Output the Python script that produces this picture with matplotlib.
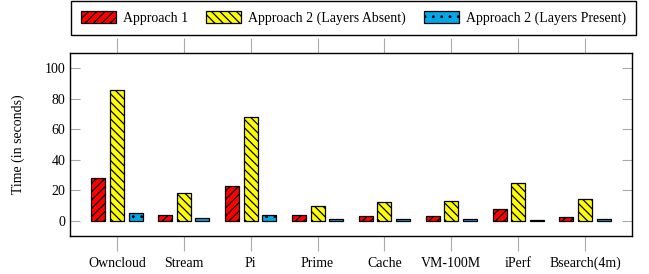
import matplotlib
matplotlib.use('Agg')
import matplotlib.pyplot as plt
import numpy as np

plt.rcParams['font.family'] = ['Liberation Serif', 'DejaVu Serif']
plt.rcParams['hatch.linewidth'] = 0.9

categories = ['Owncloud', 'Stream', 'Pi', 'Prime', 'Cache', 'VM-100M', 'iPerf', 'Bsearch(4m)']
approach1 = [28, 4, 23, 4, 3, 3, 7.5, 2.5]
layers_absent = [86, 18, 68, 10, 12, 13, 25, 14]
layers_present = [5, 1.5, 3.5, 1, 1, 1, 0.5, 1]

series = [
    ('Approach 1', approach1, '#ff0000', '////'),
    ('Approach 2 (Layers Absent)', layers_absent, '#ffff00', '\\\\\\\\'),
    ('Approach 2 (Layers Present)', layers_present, '#00a8e8', '..'),
]

fig = plt.figure(figsize=(6.49, 2.74), dpi=100)
ax = fig.add_axes([70 / 649, 38 / 274, 562 / 649, 183 / 274])

x = np.arange(len(categories))
w = 0.21
offs = [-0.28, 0, 0.28]
for (name, vals, col, hatch), o in zip(series, offs):
    ax.bar(x + o, vals, w, color=col, edgecolor='black', hatch=hatch,
           linewidth=0.9, label=name)

ax.set_xlim(-0.7, len(categories) - 0.3)
ax.set_ylim(-10, 110)
ax.set_yticks([0, 20, 40, 60, 80, 100])
ax.set_xticks(x)
ax.set_xticklabels(categories)
ax.tick_params(axis='x', direction='out', length=11, color='#aaaaaa',
               top=True, labelsize=10, pad=4)
ax.tick_params(axis='y', direction='in', length=7, color='#aaaaaa',
               right=True, labelsize=10)
for s in ax.spines.values():
    s.set_linewidth(1.0)
ax.set_ylabel('Time (in seconds)', fontsize=10, labelpad=14)

fig.legend(loc='upper left', bbox_to_anchor=(70 / 649, 1.0, 567 / 649, 0),
           mode='expand', ncol=3, fontsize=10, frameon=True, fancybox=False,
           edgecolor='black', framealpha=1, handlelength=2.5, handleheight=0.9,
           handletextpad=0.5, columnspacing=1.2, borderpad=0.75,
           borderaxespad=0.05)

fig.savefig('out.png', dpi=100)
